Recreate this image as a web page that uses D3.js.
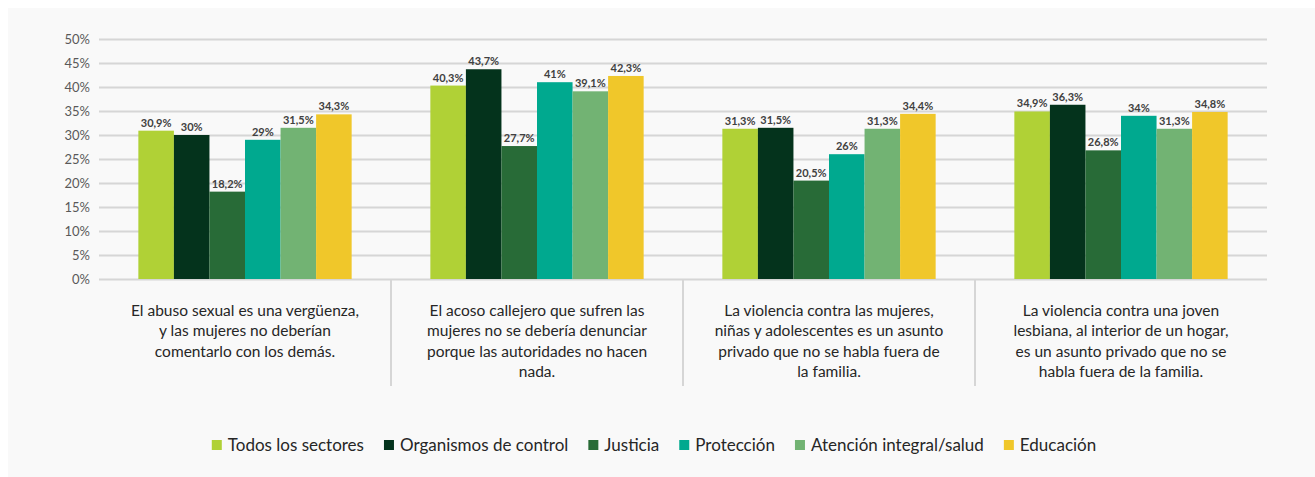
<!DOCTYPE html>
<html>
<head>
<meta charset="utf-8">
<script src="https://cdn.jsdelivr.net/npm/d3@7"></script>
<style>
  html, body { margin: 0; padding: 0; background: #ffffff; }
  svg { display: block; }
  text { font-family: Lato, "Open Sans", sans-serif; }
</style>
</head>
<body>
<svg id="chart" width="1315" height="477"></svg>
<script>
// Survey statements (line breaks as shown under each group)
const categories = [
  "El abuso sexual es una vergüenza,\ny las mujeres no deberían\ncomentarlo con los demás.",
  "El acoso callejero que sufren las\nmujeres no se debería denunciar\nporque las autoridades no hacen\nnada.",
  "La violencia contra las mujeres,\nniñas y adolescentes es un asunto\nprivado que no se habla fuera de\nla familia.",
  "La violencia contra una joven\nlesbiana, al interior de un hogar,\nes un asunto privado que no se\nhabla fuera de la familia."
];

const seriesNames = [
  "Todos los sectores",
  "Organismos de control",
  "Justicia",
  "Protección",
  "Atención integral/salud",
  "Educación"
];

// Percent agreeing, one value per statement
const todosLosSectores     = [30.9, 40.3, 31.3, 34.9];
const organismosDeControl  = [30.0, 43.7, 31.5, 36.3];
const justicia             = [18.2, 27.7, 20.5, 26.8];
const proteccion           = [29.0, 41.0, 26.0, 34.0];
const atencionIntegral     = [31.5, 39.1, 31.3, 31.3];
const educacion            = [34.3, 42.3, 34.4, 34.8];

const yTicks = [0, 5, 10, 15, 20, 25, 30, 35, 40, 45, 50];

const seriesValues = [todosLosSectores, organismosDeControl, justicia, proteccion, atencionIntegral, educacion];
const colors = ["#b0d136", "#04331c", "#286b37", "#00a98f", "#72b373", "#f0c72a"];

const svg = d3.select("#chart");
const W = 1315, H = 477;

// light panel behind the chart
svg.append("rect").attr("x", 8).attr("y", 8).attr("width", W - 8).attr("height", H - 8).attr("fill", "#f9f9f9");

const plot = { left: 99, right: 1267, top: 39, bottom: 279 };

const x0 = d3.scaleBand().domain(d3.range(categories.length)).range([plot.left, plot.right]).paddingInner(0).paddingOuter(0);
const x1 = d3.scaleBand().domain(d3.range(seriesNames.length)).range([0, x0.bandwidth()]).paddingInner(0).paddingOuter(1.107);
const y = d3.scaleLinear().domain([0, 50]).range([plot.bottom, plot.top]);

// gridlines + y labels
const yAxis = d3.axisLeft(y).tickValues(yTicks).tickSize(-(plot.right - plot.left)).tickPadding(9).tickFormat(d => d + "%");
const gy = svg.append("g").attr("transform", `translate(${plot.left},0)`).call(yAxis);
gy.select(".domain").remove();
gy.selectAll(".tick line").attr("stroke", "#d6d6d6").attr("stroke-width", 2);
gy.selectAll(".tick text").attr("fill", "#595959").style("font-size", "13px").attr("x", -9);

// category dividers below the baseline
const dividers = d3.range(1, categories.length).map(i => x0(i));
svg.append("g").selectAll("line").data(dividers).join("line")
  .attr("x1", d => d).attr("x2", d => d)
  .attr("y1", plot.bottom).attr("y2", 386)
  .attr("stroke", "#d6d6d6").attr("stroke-width", 2);

// bars
const fmt = v => String(v).replace(".", ",") + "%";
const groups = svg.append("g").selectAll("g").data(categories).join("g")
  .attr("transform", (d, i) => `translate(${x0(i)},0)`);

groups.each(function (_, ci) {
  const g = d3.select(this);
  const data = seriesValues.map((vals, si) => ({ si, v: vals[ci] }));
  g.selectAll("rect").data(data).join("rect")
    .attr("x", d => x1(d.si))
    .attr("width", x1.bandwidth())
    .attr("y", d => y(d.v))
    .attr("height", d => y(0) - y(d.v))
    .attr("fill", d => colors[d.si]);
  g.selectAll("text.val").data(data).join("text")
    .attr("class", "val")
    .attr("x", d => x1(d.si) + x1.bandwidth() / 2)
    .attr("y", d => y(d.v) - 4)
    .attr("text-anchor", "middle")
    .attr("fill", "#404040")
    .style("font-size", "11px")
    .style("font-weight", "bold")
    .text(d => fmt(d.v));
});

// category labels
svg.append("g").selectAll("text").data(categories).join("text")
  .attr("text-anchor", "middle")
  .attr("fill", "#262626")
  .style("font-size", "15.5px")
  .each(function (d, i) {
    const t = d3.select(this);
    d.split("\n").forEach((line, li) => {
      t.append("tspan").attr("x", x0(i) + x0.bandwidth() / 2).attr("y", 316 + li * 20.3).text(line);
    });
  });

// legend
const legend = svg.append("g");
const items = legend.selectAll("g").data(seriesNames).join("g");
items.append("rect").attr("width", 10).attr("height", 10).attr("y", 440).attr("fill", (d, i) => colors[i]);
items.append("text").attr("x", 16).attr("y", 451).attr("fill", "#262626").style("font-size", "17px").text(d => d);
let cx = 0;
const gap = 20;
items.each(function () {
  const w = this.querySelector("text").getComputedTextLength() + 16;
  d3.select(this).attr("transform", `translate(${cx},0)`);
  cx += w + gap;
});
const total = cx - gap;
legend.attr("transform", `translate(${(212 + 1096) / 2 - total / 2},0)`);
</script>
</body>
</html>
